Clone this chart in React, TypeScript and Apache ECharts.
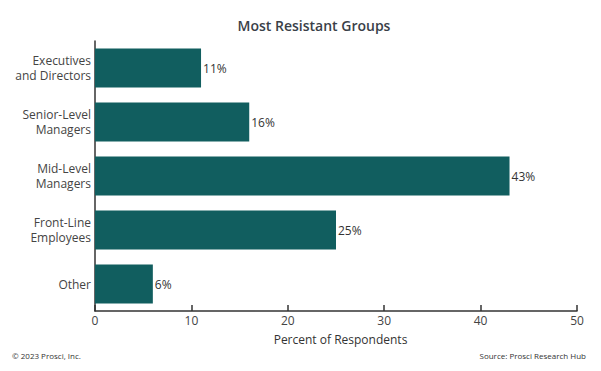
import React, { useEffect, useRef } from "react";
import * as echarts from "echarts";

const categories = [
  "Executives\nand Directors",
  "Senior-Level\nManagers",
  "Mid-Level\nManagers",
  "Front-Line\nEmployees",
  "Other",
];
const values = [11, 16, 43, 25, 6];
const xTicks = { min: 0, max: 50, interval: 10 };

export default function App() {
  const ref = useRef<HTMLDivElement>(null);
  useEffect(() => {
    const chart = echarts.init(ref.current!, null, { renderer: "svg" });
    const font = "'Open Sans', sans-serif";
    chart.setOption({
      animation: false,
      backgroundColor: "#ffffff",
      textStyle: { fontFamily: font },
      title: {
        text: "Most Resistant Groups",
        left: 309,
        top: 13,
        textAlign: "center",
        textStyle: { fontFamily: font, fontSize: 14, fontWeight: 600, color: "#3a3f48" },
      },
      grid: { left: 95, right: 24, top: 41, bottom: 60 },
      xAxis: {
        type: "value",
        min: xTicks.min,
        max: xTicks.max,
        interval: xTicks.interval,
        name: "Percent of Respondents",
        nameLocation: "middle",
        nameGap: 22,
        nameTextStyle: { fontFamily: font, fontSize: 12, color: "#333333", padding: [0, 0, 0, 9] },
        axisLine: { show: true, lineStyle: { color: "#333333", width: 1.5 } },
        axisTick: { show: true, inside: true, length: 6, lineStyle: { color: "#333333", width: 1.5 } },
        axisLabel: { fontFamily: font, fontSize: 12, color: "#444444", margin: 3 },
        splitLine: { show: false },
      },
      yAxis: {
        type: "category",
        data: categories,
        inverse: true,
        axisLine: { show: true, lineStyle: { color: "#333333", width: 1.5 } },
        axisTick: { show: false },
        axisLabel: { fontFamily: font, fontSize: 12, color: "#444444", margin: 4, lineHeight: 15 },
      },
      series: [
        {
          type: "bar",
          data: values,
          barCategoryGap: "28%",
          itemStyle: { color: "#115e5f" },
          label: {
            show: true,
            position: "right",
            distance: 2,
            formatter: "{c}%",
            fontFamily: font,
            fontSize: 12,
            color: "#333333",
          },
        },
      ],
      graphic: [
        {
          type: "text",
          left: 12,
          top: 351,
          style: { text: "© 2023 Prosci, Inc.", fontFamily: font, fontSize: 8, fill: "#333333" },
        },
        {
          type: "text",
          right: 15,
          top: 351,
          style: { text: "Source: Prosci Research Hub", fontFamily: font, fontSize: 8, fill: "#333333" },
        },
      ],
    });
    return () => chart.dispose();
  }, []);
  return <div ref={ref} style={{ width: 601, height: 371, position: "absolute", left: 0, top: 0 }} />;
}
